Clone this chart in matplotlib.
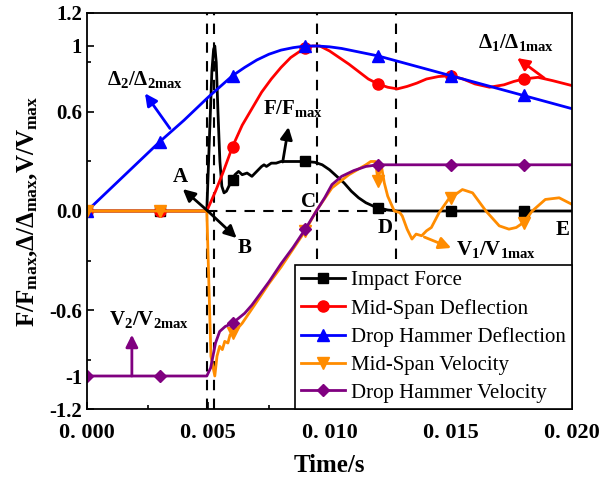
import matplotlib.pyplot as plt
import numpy as np
from matplotlib.ticker import FixedLocator, MultipleLocator

plt.rcParams['font.family'] = ['Liberation Serif', 'DejaVu Serif']
plt.rcParams['mathtext.fontset'] = 'custom'
plt.rcParams['mathtext.rm'] = 'Liberation Serif:bold'
plt.rcParams['mathtext.it'] = 'Liberation Serif:bold'
plt.rcParams['mathtext.bf'] = 'Liberation Serif:bold'

# time axis values in seconds, one array per curve
t_force = [0, 0.003, 0.00494, 0.00505, 0.00515, 0.00522, 0.00527, 0.00533, 0.0054,
           0.00548, 0.00556, 0.00565, 0.00575, 0.00585, 0.006, 0.0061, 0.00625, 0.0064,
           0.0066, 0.0068, 0.007, 0.0072, 0.0073, 0.0074, 0.0076, 0.0078, 0.008, 0.0085,
           0.009, 0.0094, 0.0097, 0.01, 0.0103, 0.0106, 0.0109, 0.0112, 0.0115, 0.0118,
           0.012, 0.0124, 0.0128, 0.015, 0.018, 0.02]
force = [0, 0, 0, 0.45, 0.85, 0.98, 1.0, 0.9, 0.6, 0.3, 0.15, 0.11, 0.12, 0.15, 0.19,
         0.22, 0.24, 0.22, 0.23, 0.21, 0.24, 0.27, 0.28, 0.27, 0.29, 0.29, 0.30, 0.30,
         0.30, 0.295, 0.28, 0.25, 0.21, 0.17, 0.12, 0.08, 0.05, 0.03, 0.02, 0.006, 0,
         0, 0, 0]

t_mid_defl = [0, 0.003, 0.00494, 0.0053, 0.0056, 0.006, 0.0064, 0.0068, 0.0072, 0.0076,
              0.008, 0.0084, 0.0088, 0.009, 0.0093, 0.0096, 0.01, 0.0104, 0.0108, 0.0112,
              0.0116, 0.012, 0.0124, 0.0128, 0.0132, 0.0136, 0.014, 0.0145, 0.015, 0.0155,
              0.016, 0.0166, 0.0172, 0.0176, 0.018, 0.0186, 0.0192, 0.0196, 0.02]
mid_defl = [0, 0, 0, 0.12, 0.23, 0.39, 0.52, 0.62, 0.72, 0.80, 0.87, 0.93, 0.97, 0.985,
            1.0, 1.0, 0.97, 0.93, 0.89, 0.845, 0.80, 0.77, 0.75, 0.74, 0.755, 0.775, 0.80,
            0.815, 0.82, 0.80, 0.77, 0.75, 0.765, 0.785, 0.80, 0.81, 0.79, 0.775, 0.76]

t_hammer_defl = [0, 0.001, 0.002, 0.003, 0.004, 0.005, 0.006, 0.0065, 0.007, 0.0075,
                 0.008, 0.0085, 0.009, 0.0095, 0.01, 0.0105, 0.011, 0.0115, 0.012, 0.013,
                 0.014, 0.015, 0.016, 0.017, 0.018, 0.019, 0.02]
hammer_defl = [0, 0.14, 0.28, 0.42, 0.55, 0.69, 0.82, 0.87, 0.915, 0.95, 0.975, 0.99,
               1.0, 1.0, 0.995, 0.985, 0.97, 0.955, 0.94, 0.90, 0.86, 0.82, 0.78, 0.74,
               0.70, 0.66, 0.62]

t_mid_vel = [0, 0.003, 0.00494, 0.00511, 0.00527, 0.00536, 0.00547, 0.00558, 0.00568,
             0.00581, 0.0059, 0.006, 0.00616, 0.0064, 0.007, 0.0075, 0.008, 0.0085,
             0.009, 0.00945, 0.0101, 0.0108, 0.0115, 0.0117, 0.0119, 0.012, 0.01213,
             0.01226, 0.0124, 0.01267, 0.0129, 0.013, 0.0132, 0.0134, 0.01357, 0.0138,
             0.014, 0.0142, 0.01452, 0.0149, 0.015, 0.01548, 0.0159, 0.01645, 0.017,
             0.0174, 0.0177, 0.018, 0.01836, 0.0189, 0.01947, 0.02]
mid_vel = [0, 0, 0, -0.88, -1.0, -0.88, -0.82, -0.84, -0.79, -0.80, -0.75, -0.74,
           -0.72, -0.68, -0.55, -0.44, -0.34, -0.23, -0.12, 0, 0.14, 0.22, 0.28, 0.30,
           0.30, 0.18, 0.28, 0.17, 0.09, 0, -0.01, -0.03, -0.11, -0.17, -0.14, -0.15,
           -0.12, -0.10, -0.01, 0.07, 0.08, 0.13, 0.11, 0, -0.09, -0.11, -0.10, -0.07,
           0, 0.07, 0.08, 0.04]

t_hammer_vel = [0, 0.003, 0.00494, 0.0051, 0.0053, 0.00547, 0.0057, 0.006, 0.0065,
                0.0068, 0.007, 0.0075, 0.008, 0.0085, 0.009, 0.0095, 0.0098, 0.0101,
                0.0105, 0.011, 0.0115, 0.012, 0.015, 0.018, 0.02]
hammer_vel = [-1, -1, -1, -0.95, -0.80, -0.73, -0.70, -0.68, -0.62, -0.57, -0.53, -0.43,
              -0.32, -0.22, -0.11, 0.01, 0.08, 0.16, 0.21, 0.245, 0.27, 0.28, 0.28, 0.28,
              0.28]

# stage boundaries (s)
stage_times = [0.00493, 0.00523, 0.00947, 0.01276]

x_ticks = [0, 0.005, 0.01, 0.015, 0.02]
x_tick_labels = ['0. 000', '0. 005', '0. 010', '0. 015', '0. 020']
y_ticks = [-1.2, -1, -0.6, 0, 0.6, 1, 1.2]
y_tick_labels = ['-1.2', '-1', '-0.6', '0.0', '0.6', '1', '1.2']


def marker_positions(t, step=0.003):
    return [i for i, v in enumerate(t) if abs(v / step - round(v / step)) < 1e-6]


fig = plt.figure(figsize=(6.03, 4.83), dpi=100)
ax = fig.add_axes([0.1443, 0.1532, 0.8043, 0.8199])

series = [
    (t_force, force, 'black', 's', 7, 'Impact Force'),
    (t_mid_defl, mid_defl, 'red', 'o', 8, 'Mid-Span Deflection'),
    (t_hammer_defl, hammer_defl, 'blue', '^', 8, 'Drop Hammer Deflection'),
    (t_mid_vel, mid_vel, '#FF8C00', 'v', 8, 'Mid-Span Velocity'),
    (t_hammer_vel, hammer_vel, '#800080', 'D', 6, 'Drop Hammer Velocity'),
]
for t, y, color, marker, ms, label in series:
    ax.plot(t, y, color=color, lw=2, marker=marker, markersize=ms,
            markevery=marker_positions(t), label=label)

dash = (0, (5, 4))
for ts in stage_times:
    ax.axvline(ts, color='black', lw=1.5, linestyle=dash, zorder=1)
ax.plot([stage_times[0], stage_times[3]], [0, 0], color='black', lw=1.5,
        linestyle=dash, zorder=1)

arrow = dict(arrowstyle='-|>', lw=2, mutation_scale=18, shrinkA=0, shrinkB=0)
label_font = dict(fontsize=15, fontweight='bold', ha='center', va='center')


def pointer(tail, head, color):
    ax.annotate('', xy=head, xytext=tail,
                arrowprops=dict(arrow, color=color))


pointer((0.00498, 0), (0.00395, 0.133), 'black')
ax.text(0.00383, 0.206, 'A', **label_font)
pointer((0.00498, 0), (0.00617, -0.164), 'black')
ax.text(0.0065, -0.224, 'B', **label_font)
ax.text(0.00914, 0.055, 'C', **label_font)
ax.text(0.0123, -0.103, 'D', **label_font)
ax.text(0.0196, -0.115, 'E', **label_font)

pointer((0.00807, 0.297), (0.00831, 0.509), 'black')
ax.text(0.00848, 0.624, r'F/F$_{max}$', **label_font)

pointer((0.00342, 0.50), (0.00239, 0.713), 'blue')
ax.text(0.00239, 0.794, r'$\Delta_2/\Delta_{2max}$', **label_font)

pointer((0.01885, 0.806), (0.01774, 0.927), 'red')
ax.text(0.0177, 1.024, r'$\Delta_1/\Delta_{1max}$', **label_font)

pointer((0.01391, -0.158), (0.01502, -0.224), '#FF8C00')
ax.text(0.01687, -0.236, r'V$_1$/V$_{1max}$', **label_font)

pointer((0.00185, -1.0), (0.00185, -0.75), '#800080')
ax.text(0.00255, -0.66, r'V$_2$/V$_{2max}$', **label_font)

ax.set_xlim(0, 0.02)
ax.set_ylim(-1.2, 1.2)
ax.set_xticks(x_ticks)
ax.set_xticklabels(x_tick_labels, fontsize=16, fontweight='bold')
ax.xaxis.set_minor_locator(MultipleLocator(0.0025))
ax.set_yticks(y_ticks)
ax.set_yticklabels(y_tick_labels, fontsize=15, fontweight='bold')
ax.yaxis.set_minor_locator(FixedLocator([-0.9, -0.3, 0.3, 0.9]))
ax.tick_params(which='both', direction='in', width=1.2)
ax.tick_params(which='major', length=5)
ax.tick_params(which='minor', length=3)
ax.tick_params(axis='x', which='major', pad=10)
for spine in ax.spines.values():
    spine.set_linewidth(1.3)

ax.set_xlabel('Time/s', fontsize=18, fontweight='bold', labelpad=8)
ax.set_ylabel(r'F/F$_{max}$,$\Delta$/$\Delta_{max}$,V/V$_{max}$',
              fontsize=18, fontweight='bold', labelpad=7)

leg = ax.legend(loc='lower right', borderaxespad=0, fontsize=15, fancybox=False,
                edgecolor='black', framealpha=1, handlelength=2.1,
                handletextpad=0.3, labelspacing=0.4, borderpad=0.3)
leg.get_frame().set_linewidth(1.2)

fig.savefig('out.png', dpi=100)
